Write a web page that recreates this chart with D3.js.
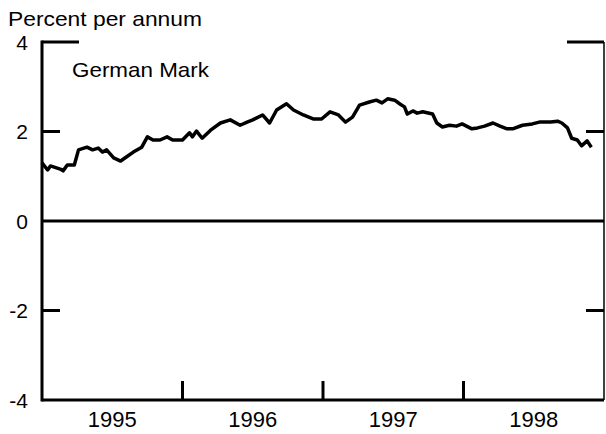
<!DOCTYPE html>
<html>
<head>
<meta charset="utf-8">
<script src="https://cdn.jsdelivr.net/npm/d3@7"></script>
<style>
  body { margin: 0; background: #fff; }
  text { font-family: "Liberation Sans", Arial, Helvetica, sans-serif; fill: #000; }
</style>
</head>
<body>
<script>
// readings (decimal year, percent per annum)
var years = [1995.00, 1995.04, 1995.06, 1995.13, 1995.15, 1995.18, 1995.23, 1995.26, 1995.32, 1995.36,
    1995.40, 1995.43, 1995.46, 1995.51, 1995.56, 1995.60, 1995.65, 1995.71, 1995.75, 1995.79,
    1995.84, 1995.89, 1995.93, 1996.00, 1996.05, 1996.07, 1996.10, 1996.14, 1996.20, 1996.27,
    1996.34, 1996.41, 1996.46, 1996.50, 1996.57, 1996.62, 1996.67, 1996.74, 1996.79, 1996.86,
    1996.93, 1996.99, 1997.05, 1997.11, 1997.16, 1997.21, 1997.26, 1997.33, 1997.38, 1997.42,
    1997.46, 1997.51, 1997.55, 1997.58, 1997.60, 1997.64, 1997.67, 1997.71, 1997.78, 1997.81,
    1997.85, 1997.90, 1997.95, 1997.99, 1998.06, 1998.10, 1998.15, 1998.21, 1998.26, 1998.31,
    1998.35, 1998.42, 1998.49, 1998.54, 1998.62, 1998.67, 1998.70, 1998.74, 1998.77, 1998.81,
    1998.84, 1998.88, 1998.91];
var rates = [1.30, 1.14, 1.23, 1.16, 1.12, 1.25, 1.25, 1.59, 1.65, 1.59,
    1.63, 1.54, 1.59, 1.41, 1.34, 1.43, 1.54, 1.65, 1.88, 1.81,
    1.81, 1.88, 1.81, 1.81, 1.97, 1.88, 2.01, 1.85, 2.03, 2.19,
    2.26, 2.14, 2.21, 2.26, 2.37, 2.19, 2.48, 2.62, 2.48, 2.37,
    2.28, 2.28, 2.44, 2.37, 2.21, 2.32, 2.59, 2.66, 2.70, 2.64,
    2.73, 2.70, 2.61, 2.55, 2.39, 2.46, 2.41, 2.44, 2.39, 2.19,
    2.10, 2.14, 2.12, 2.17, 2.06, 2.08, 2.12, 2.19, 2.12, 2.06,
    2.06, 2.14, 2.17, 2.21, 2.21, 2.23, 2.19, 2.08, 1.85, 1.81,
    1.68, 1.79, 1.65];

var yTicks = [4, 2, 0, -2, -4];
var yTickLabels = ['4', '2', '0', '-2', '-4'];
var yearLabels = ['1995', '1996', '1997', '1998'];
var yearTicks = [1996, 1997, 1998];

var width = 606;
var height = 434;

var margin = {
    top: 42,
    left: 42,
    right: 2,
    bottom: 34
};

var data = years.map(function (d, i) {
    return { year: d, rate: rates[i] };
});

var svg = d3.select('body').append('svg')
    .attr('width', width)
    .attr('height', height);

var x = d3.scaleLinear()
    .domain([1995, 1999])
    .range([margin.left, width - margin.right]);

var y = d3.scaleLinear()
    .domain([-4, 4])
    .range([height - margin.bottom, margin.top]);

// title
svg.append('text')
    .attr('x', 8)
    .attr('y', 26)
    .attr('textLength', 194)
    .attr('lengthAdjust', 'spacingAndGlyphs')
    .style('font-size', '21px')
    .text('Percent per annum');

svg.append('text')
    .attr('x', 72)
    .attr('y', 77)
    .attr('textLength', 137)
    .attr('lengthAdjust', 'spacingAndGlyphs')
    .style('font-size', '21px')
    .text('German Mark');

// right frame line (thin)
svg.append('line')
    .attr('x1', x(1999)).attr('x2', x(1999))
    .attr('y1', y(4)).attr('y2', y(-4))
    .attr('stroke', '#000')
    .attr('stroke-width', 1.5);

// left axis line
svg.append('line')
    .attr('x1', x(1995)).attr('x2', x(1995))
    .attr('y1', y(4) - 1.5).attr('y2', y(-4) + 1.5)
    .attr('stroke', '#000')
    .attr('stroke-width', 3);

// bottom axis line and zero line
[-4, 0].forEach(function (v) {
    svg.append('line')
        .attr('x1', x(1995)).attr('x2', x(1999))
        .attr('y1', y(v)).attr('y2', y(v))
        .attr('stroke', '#000')
        .attr('stroke-width', 3);
});

// y tick stubs on both sides
var stubs = yTicks.filter(function (v) { return v === 4 || v === 2 || v === -2; });
stubs.forEach(function (v) {
    var len = v === 4 ? 37 : 18;
    svg.append('line')
        .attr('x1', x(1995)).attr('x2', x(1995) + len)
        .attr('y1', y(v)).attr('y2', y(v))
        .attr('stroke', '#000').attr('stroke-width', 3);
    svg.append('line')
        .attr('x1', x(1999) - len).attr('x2', x(1999))
        .attr('y1', y(v)).attr('y2', y(v))
        .attr('stroke', '#000').attr('stroke-width', 3);
});

// y labels
svg.selectAll('text.ylab')
    .data(yTicks)
    .join('text')
    .classed('ylab', true)
    .attr('x', 28)
    .attr('y', function (d) { return y(d); })
    .attr('dy', '0.36em')
    .attr('text-anchor', 'end')
    .style('font-size', '21px')
    .text(function (d, i) { return yTickLabels[i]; });

// year ticks
svg.selectAll('line.xtick')
    .data(yearTicks)
    .join('line')
    .classed('xtick', true)
    .attr('x1', function (d) { return x(d); })
    .attr('x2', function (d) { return x(d); })
    .attr('y1', y(-4))
    .attr('y2', y(-4) - 19)
    .attr('stroke', '#000')
    .attr('stroke-width', 3);

// year labels centred in each year
svg.selectAll('text.xlab')
    .data(yearLabels)
    .join('text')
    .classed('xlab', true)
    .attr('x', function (d) { return x(+d + 0.5); })
    .attr('y', 427)
    .attr('text-anchor', 'middle')
    .style('font-size', '22px')
    .text(function (d) { return d; });

// the series
var line = d3.line()
    .x(function (d) { return x(d.year); })
    .y(function (d) { return y(d.rate); });

svg.append('path')
    .datum(data)
    .attr('d', line)
    .attr('fill', 'none')
    .attr('stroke', '#000')
    .attr('stroke-width', 3.5)
    .attr('stroke-linejoin', 'round');
</script>
</body>
</html>
